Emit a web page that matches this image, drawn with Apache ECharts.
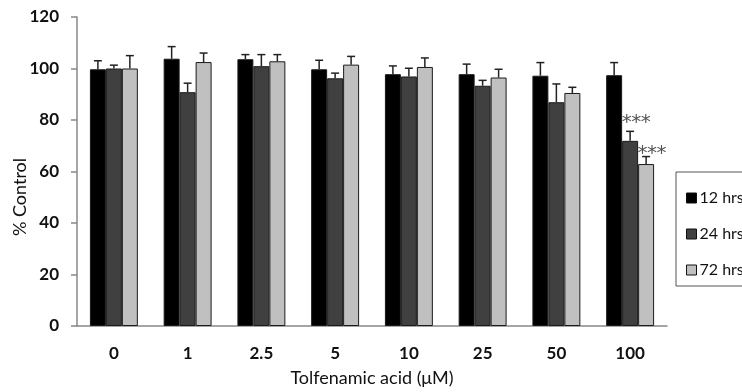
<!DOCTYPE html>
<html><head><meta charset="utf-8">
<script src="https://cdn.jsdelivr.net/npm/echarts@6/dist/echarts.min.js"></script>
<style>html,body{margin:0;padding:0;background:#fff}#c{width:742px;height:392px}</style>
</head><body><div id="c"></div>
<script>
var categories = ['0','1','2.5','5','10','25','50','100'];
var seriesNames = ['12 hrs','24 hrs','72 hrs'];
var h12 = [99.7, 103.8, 103.6, 99.7, 97.8, 97.8, 97.2, 97.4];
var h12err = [3.3, 4.7, 1.8, 3.5, 3.2, 3.9, 5.1, 4.9];
var h24 = [100, 90.8, 100.9, 96.2, 96.9, 93.3, 86.9, 71.9];
var h24err = [1.3, 3.5, 4.5, 2.0, 3.2, 2.1, 7.1, 3.7];
var h72 = [100, 102.5, 102.8, 101.5, 100.6, 96.5, 90.5, 62.9];
var h72err = [5.0, 3.5, 2.6, 3.2, 3.5, 3.2, 2.2, 2.9];
var sig24 = ['','','','','','','','***'];
var sig72 = ['','','','','','','','***'];
var yTicks = [0, 20, 40, 60, 80, 100, 120];

var fills = ['#000000', '#404040', '#c0c0c0'];
var vals = [h12, h24, h72];
var errs = [h12err, h24err, h72err];
var sigs = [[], sig24, sig72];
var starLift = [12, 15, 9];
var catGap = 0.35;
var font = 'Lato, "Open Sans", sans-serif';

var chart = echarts.init(document.getElementById('c'), null, {renderer: 'canvas'});

var series = [];
vals.forEach(function (v, i) {
  series.push({
    name: seriesNames[i], type: 'bar', data: v,
    barGap: '0%', barCategoryGap: (catGap * 100) + '%',
    itemStyle: {color: fills[i], borderColor: '#1a1a1a', borderWidth: 1},
    emphasis: {disabled: true}
  });
});
vals.forEach(function (v, i) {
  var data = v.map(function (val, k) { return [k, val, errs[i][k], sigs[i][k] || '']; });
  series.push({
    type: 'custom', silent: true, z: 5,
    data: data,
    renderItem: function (params, api) {
      var k = api.value(0), val = api.value(1), e = api.value(2);
      var band = api.size([1, 0])[0];
      var bw = band * (1 - catGap) / 3;
      var cx = api.coord([k, 0])[0] + (i - 1) * bw;
      var yTop = api.coord([k, val])[1];
      var yErr = api.coord([k, val + e])[1];
      var children = [
        {type: 'line', shape: {x1: cx, y1: yTop, x2: cx, y2: yErr}, style: {stroke: '#222', lineWidth: 1.5}},
        {type: 'line', shape: {x1: cx - 4, y1: yErr, x2: cx + 4, y2: yErr}, style: {stroke: '#222', lineWidth: 1.5}}
      ];
      var s = data[params.dataIndex][3];
      if (s) {
        var n = s.length;
        for (var j = 0; j < n; j++) {
          children.push({type: 'text', style: {text: '*', x: cx + 6 + (j - (n - 1) / 2) * 9.5, y: yErr - starLift[i] - 4,
            align: 'center', verticalAlign: 'top', fill: '#555', font: '20px "DejaVu Sans", sans-serif'}});
        }
      }
      return {type: 'group', children: children};
    }
  });
});

chart.setOption({
  animation: false,
  backgroundColor: '#fff',
  grid: {left: 77, right: 75, top: 17, bottom: 63, containLabel: false},
  legend: {
    orient: 'vertical', left: 676, top: 172,
    data: seriesNames,
    itemWidth: 10, itemHeight: 10, itemGap: 20,
    padding: [18, 20, 8, 10],
    borderColor: '#555', borderWidth: 1,
    textStyle: {fontFamily: font, fontSize: 16, color: '#111', padding: [0, 0, 0, -2], lineHeight: 16},
    itemStyle: {borderColor: '#111', borderWidth: 1},
    icon: 'rect'
  },
  xAxis: {
    type: 'category', data: categories,
    axisLine: {lineStyle: {color: '#888', width: 1.5}},
    axisTick: {show: false},
    axisLabel: {color: '#111', fontFamily: font, fontSize: 17, fontWeight: 'bold', margin: 19},
    name: 'Tolfenamic acid (\u03bcM)', nameLocation: 'middle', nameGap: 43,
    nameTextStyle: {color: '#111', fontFamily: font, fontSize: 18}
  },
  yAxis: {
    type: 'value', min: yTicks[0], max: yTicks[yTicks.length - 1], interval: 20,
    axisLine: {show: true, lineStyle: {color: '#888', width: 1.5}},
    axisTick: {show: true, length: 6, lineStyle: {color: '#888', width: 1.5}},
    splitLine: {show: false},
    axisLabel: {color: '#111', fontFamily: font, fontSize: 17, fontWeight: 'bold', margin: 18}
  },
  graphic: [{
    type: 'text', x: 20, y: 197, rotation: Math.PI / 2,
    style: {text: '% Control', align: 'center', verticalAlign: 'middle', fill: '#111', font: '18px ' + font}
  }],
  series: series
});
</script></body></html>
